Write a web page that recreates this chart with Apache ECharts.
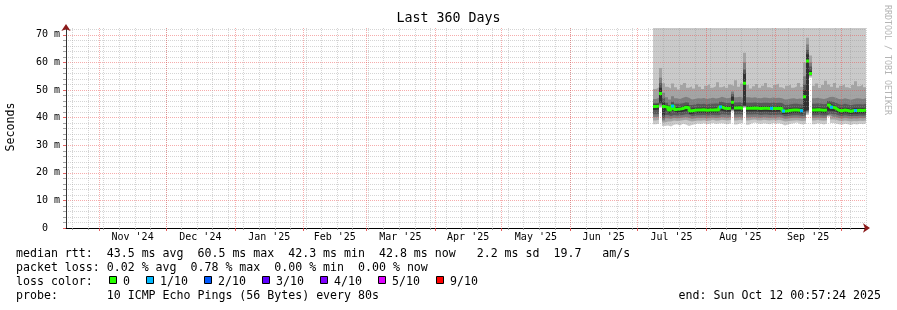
<!DOCTYPE html>
<html><head><meta charset="utf-8">
<script src="https://cdn.jsdelivr.net/npm/echarts@6/dist/echarts.min.js"></script>
<style>html,body{margin:0;padding:0;background:#fff}#c{width:897px;height:310px}</style>
</head><body><div id="c"></div>
<script>
// ---------- data ----------
const endTime = Date.UTC(2025, 9, 12, 0, 57, 24);
const spanDays = 360;
const sampleStepHours = 32.4;
const yMax = 72.5;

const median = [44.0,44.2,48.8,44.0,43.8,42.8,44.2,43.0,43.1,43.3,43.8,43.6,42.5,42.7,42.8,42.8,42.9,42.7,42.8,42.8,42.9,42.8,43.9,43.4,43.3,43.4,45.6,43.5,43.6,43.3,52.5,43.4,43.4,43.5,43.4,43.3,43.4,43.4,43.3,43.4,43.3,43.4,43.3,42.4,42.5,42.7,42.8,42.8,42.7,42.5,47.6,60.5,56.0,42.8,42.9,42.8,42.7,42.8,44.6,43.8,43.4,42.7,42.5,42.8,42.6,42.3,42.6,42.6,42.7,42.6,42.8,42.8];
const lossCount = [0,0,0,0,0,0,1,0,0,0,0,0,0,0,0,0,0,0,0,0,0,0,1,0,0,0,0,0,0,0,0,0,0,0,0,0,0,0,0,1,0,0,0,1,0,0,0,0,0,1,0,0,0,0,0,0,0,0,0,1,0,0,0,0,0,0,0,1,0,0,0,0];
const p10 = [75,75,75,75,75,75,75,75,75,75,75,75,75,75,75,75,75,75,75,75,75,75,75,75,75,75,75,75,75,75,75,75,75,75,75,75,75,75,75,75,75,75,75,75,75,75,75,75,75,75,75,75,75,75,75,75,75,75,75,75,75,75,75,75,75,75,75,75,75,75,75,75];
const p9 = [50.4,51.0,58.0,52.5,51.2,50.6,52.4,51.0,50.2,51.8,52.6,50.8,51.4,50.6,52.0,51.2,50.4,51.6,52.2,50.8,51.4,52.8,51.0,51.6,50.8,52.0,51.5,53.6,51.2,52.4,63.5,51.8,50.6,51.4,52.2,50.8,51.6,52.6,51.0,50.6,51.8,52.4,51.0,50.4,51.6,52.0,50.8,51.4,52.6,51.2,60.0,69.0,62.5,51.6,52.4,50.8,51.8,53.4,52.0,51.2,52.6,50.8,51.6,52.2,51.0,50.6,51.8,53.2,51.4,52.0,51.0,51.6];
const p8 = [46.8,47.2,54.5,49.0,47.4,46.6,47.8,47.0,46.8,47.2,47.6,47.2,46.6,46.8,47.0,46.9,47.1,46.8,47.0,47.2,46.9,47.1,47.6,47.2,47.0,47.3,49.5,47.4,47.6,47.2,60.0,47.4,47.2,47.4,47.1,47.0,47.3,47.2,47.0,47.3,47.1,47.2,47.0,46.6,46.7,46.9,47.0,46.8,46.9,46.8,55.0,66.5,60.0,47.0,47.2,46.9,46.8,47.0,47.5,47.6,47.2,46.8,46.7,47.0,46.8,46.5,46.8,47.0,46.9,46.8,47.0,46.9];
const p7 = [45.2,45.4,52.5,47.0,45.4,44.6,45.8,45.0,45.0,45.2,45.6,45.4,44.6,44.8,45.0,44.9,45.0,44.8,45.0,45.0,45.1,45.0,45.8,45.4,45.3,45.4,48.5,45.5,45.6,45.3,57.5,45.4,45.4,45.5,45.4,45.3,45.4,45.4,45.3,45.5,45.3,45.4,45.3,44.6,44.7,44.9,45.0,45.0,44.9,44.8,52.0,64.5,58.5,45.0,45.1,45.0,44.9,45.0,46.0,45.8,45.4,44.9,44.7,45.0,44.8,44.5,44.8,44.9,44.9,44.8,45.0,45.0];
const p6 = [44.8,45.0,50.8,45.5,44.6,43.6,45.0,43.8,43.9,44.1,44.6,44.4,43.3,43.5,43.6,43.6,43.7,43.5,43.6,43.6,43.7,43.6,44.7,44.2,44.1,44.2,47.6,44.3,44.4,44.1,56.0,44.2,44.2,44.3,44.2,44.1,44.2,44.2,44.1,44.2,44.1,44.2,44.1,43.2,43.3,43.5,43.6,43.6,43.5,43.3,50.0,63.0,57.0,43.6,43.7,43.6,43.5,43.6,45.3,44.6,44.2,43.5,43.3,43.6,43.4,43.1,43.4,43.4,43.5,43.4,43.6,43.6];
const p5 = [42.8,43.0,45.5,41.0,42.6,41.6,42.4,41.8,41.9,42.1,42.4,42.3,41.3,41.6,41.7,41.7,41.8,41.6,41.7,41.7,41.8,41.7,42.5,42.2,42.1,42.2,43.2,42.3,42.4,42.1,44.4,42.2,42.2,42.3,42.2,42.1,42.2,42.2,42.1,42.1,42.1,42.2,42.1,41.3,41.4,41.6,41.7,41.7,41.6,41.4,42.3,43.0,55.8,41.7,41.8,41.7,41.6,41.7,42.5,42.4,42.2,41.6,41.4,41.7,41.5,41.2,41.5,41.4,41.6,41.5,41.7,41.7];
const p4 = [41.2,41.3,45.0,39.8,41.0,40.6,41.0,40.8,40.9,41.0,41.2,41.1,40.6,40.8,40.9,40.9,41.0,40.8,40.9,41.0,40.9,40.9,41.2,41.1,41.0,41.1,43.0,41.1,41.2,41.0,44.2,41.1,41.1,41.2,41.1,41.0,41.1,41.1,41.0,41.0,41.0,41.1,41.0,40.5,40.6,40.8,40.9,40.9,40.8,40.6,41.0,42.5,55.6,40.9,41.0,40.9,40.8,40.9,41.5,41.2,41.1,40.8,40.6,40.9,40.7,40.5,40.7,40.6,40.8,40.7,40.9,40.9];
const p3 = [40.2,40.3,44.5,39.0,39.8,39.6,40.0,39.8,39.9,40.1,40.2,40.0,39.6,39.8,40.0,39.9,40.0,39.8,40.0,40.1,39.9,40.0,40.2,40.1,40.0,40.2,42.8,40.1,40.2,40.0,44.0,40.1,40.2,40.2,40.1,40.0,40.2,40.1,40.0,40.1,40.0,40.2,40.0,39.6,39.7,39.9,40.0,40.0,39.9,39.7,40.0,42.0,55.3,40.0,40.1,40.0,39.9,40.0,41.0,40.3,40.2,39.9,39.7,40.0,39.8,39.6,39.8,39.7,39.9,39.8,40.0,40.0];
const p2 = [39.0,39.2,44.0,38.2,38.6,38.6,39.0,38.8,38.9,39.1,39.2,38.9,38.6,38.8,39.0,38.9,39.1,38.8,39.0,39.2,38.9,39.0,39.2,39.1,39.0,39.2,42.5,39.0,39.2,39.1,43.8,39.0,39.2,39.3,39.1,39.0,39.2,39.1,39.0,39.2,39.0,39.2,39.0,38.6,38.7,38.9,39.0,39.1,38.9,38.7,39.0,41.5,55.0,39.0,39.2,39.0,38.9,39.1,40.6,39.3,39.2,38.9,38.7,39.0,38.8,38.6,38.8,38.7,38.9,38.8,39.0,39.0];
const p1 = [37.6,37.8,43.6,37.0,37.2,36.8,37.4,37.6,37.2,37.8,37.5,37.0,37.3,37.6,37.9,37.7,38.0,37.6,37.8,38.1,37.7,37.9,38.0,37.8,37.6,38.0,42.2,37.5,37.9,38.1,43.6,37.4,38.0,38.2,37.9,37.7,38.0,37.8,37.6,38.1,37.8,38.0,37.7,37.2,37.5,37.8,38.0,38.2,37.7,37.5,37.8,41.0,54.5,37.6,38.0,37.8,37.5,37.9,40.3,38.1,37.9,37.6,37.4,37.8,37.6,37.3,37.7,37.5,37.8,37.6,37.9,37.8];

const monthStarts = ['2024-11-01','2024-12-01','2025-01-01','2025-02-01','2025-03-01','2025-04-01','2025-05-01','2025-06-01','2025-07-01','2025-08-01','2025-09-01','2025-10-01'];
const monthLabels = ["Nov '24","Dec '24","Jan '25","Feb '25","Mar '25","Apr '25","May '25","Jun '25","Jul '25","Aug '25","Sep '25"];
const firstWeekLine = '2024-10-20';
const yMajorTicks = [0,10,20,30,40,50,60,70];
const yMinorTicks = [2,4,6,8,12,14,16,18,22,24,26,28,32,34,36,38,42,44,46,48,52,54,56,58,62,64,66,68,72];

const smokeColors = ['#cacaca','#a4a4a4','#7e7e7e','#585858','#323232'];
const lossLegendLabels = ['0','1/10','2/10','3/10','4/10','5/10','9/10'];
const lossLegendColors = ['#26ff00','#00b8ff','#0059ff','#5e00ff','#7e00ff','#dd00ff','#ff0000'];

const titleText = 'Last 360 Days';
const yName = 'Seconds';
const watermark = 'RRDTOOL / TOBI OETIKER';
const statLine1 = 'median rtt:  43.5 ms avg  60.5 ms max  42.3 ms min  42.8 ms now   2.2 ms sd  19.7   am/s';
const statLine2 = 'packet loss: 0.02 % avg  0.78 % max  0.00 % min  0.00 % now';
const statLine3 = 'loss color:';
const statLine4 = 'probe:       10 ICMP Echo Pings (56 Bytes) every 80s';
const endText = 'end: Sun Oct 12 00:57:24 2025';

// ---------- build ----------
const DAY = 86400000;
const startTime = endTime - spanDays * DAY;
const N = median.length;
const stepMs = sampleStepHours * 3600000;
const times = median.map((_, i) => endTime - (N - 1 - i) * stepMs);

const monthTickValues = monthStarts.map(s => Date.parse(s + 'T00:00:00Z'));
const monthMidValues = monthLabels.map((_, i) => (monthTickValues[i] + monthTickValues[i + 1]) / 2);
const weekTicks = [];
for (let t = Date.parse(firstWeekLine + 'T00:00:00Z'); t < endTime; t += 7 * DAY) weekTicks.push(t);

// Nested smoke layers, each filled down to the axis: upper edges first, then lower edges.
const smokeLayers = [
  [p10, smokeColors[0]], [p9, smokeColors[1]], [p8, smokeColors[2]], [p7, smokeColors[3]], [p6, smokeColors[4]],
  [p5, smokeColors[3]], [p4, smokeColors[2]], [p3, smokeColors[1]], [p2, smokeColors[0]], [p1, '#ffffff']
];

function lossColor(n) { return lossLegendColors[n > 5 ? 6 : n]; }

const MONO = "'DejaVu Sans Mono', monospace";
const series = [];
smokeLayers.forEach(([vals, col]) => {
  series.push({
    type: 'line', step: 'end', symbol: 'none', silent: true, z: 2,
    data: times.map((t, i) => [t, vals[i]]),
    lineStyle: { width: 0, color: col },
    itemStyle: { color: col },
    areaStyle: { color: col, opacity: 1, origin: 'start' }
  });
});
// median: stepped runs (broken at large jumps so spikes have no green verticals)
const runs = [];
let cur = [];
for (let i = 0; i < N - 1; i++) {
  cur.push([times[i], median[i]]);
  if (i === N - 2 || Math.abs(median[i + 1] - median[i]) > 1.5) {
    cur.push([times[i + 1], median[i]]);
    runs.push(cur);
    cur = [];
  }
}
runs.forEach(run => {
  series.push({
    type: 'line', step: 'end', symbol: 'none', silent: true, z: 5,
    data: run,
    lineStyle: { color: lossLegendColors[0], width: 3, cap: 'butt' }
  });
});
// loss-coloured median columns (samples with packet loss)
series.push({
  type: 'scatter', silent: true, z: 6, symbol: 'rect', symbolSize: [3, 3], symbolOffset: [1.5, 0],
  itemStyle: { color: p => lossColor(p.data[2]), opacity: 1 },
  data: times.map((t, i) => [t, median[i], lossCount[i]]).filter(d => d[2] > 0)
});

const minorGrid = { color: 'rgba(150,150,150,0.4)', type: [1, 1], width: 1 };
const majorGrid = { color: 'rgba(235,70,70,0.45)', type: [1, 1], width: 1 };

const graphic = [];
graphic.push({ type: 'text', x: 448.5, y: 19, style: { text: titleText, font: "13.3px 'DejaVu Sans Mono'", fill: '#000', align: 'center', verticalAlign: 'middle' } });
graphic.push({ type: 'text', x: 11, y: 127, rotation: Math.PI / 2, style: { text: yName, font: "11.6px 'DejaVu Sans Mono'", fill: '#000', align: 'center', verticalAlign: 'middle' } });
graphic.push({ type: 'text', x: 887.5, y: 60, rotation: -Math.PI / 2, style: { text: watermark, font: "8.3px 'DejaVu Sans Mono'", fill: '#b4b4b4', align: 'center', verticalAlign: 'middle' } });
const lineYs = [254, 268, 282, 296];
[statLine1, statLine2, statLine3, statLine4].forEach((s, i) => {
  graphic.push({ type: 'text', x: 16, y: lineYs[i], style: { text: s, font: "11.6px 'DejaVu Sans Mono'", fill: '#000', align: 'left', verticalAlign: 'middle' } });
});
graphic.push({ type: 'text', x: 881, y: lineYs[3], style: { text: endText, font: "11.6px 'DejaVu Sans Mono'", fill: '#000', align: 'right', verticalAlign: 'middle' } });
let bx = 109;
lossLegendLabels.forEach((lab, i) => {
  graphic.push({ type: 'rect', shape: { x: bx + 0.5, y: 276.5, width: 7, height: 7 }, style: { fill: lossLegendColors[i], stroke: '#000', lineWidth: 1 } });
  graphic.push({ type: 'text', x: bx + 14, y: lineYs[2], style: { text: lab, font: "11.6px 'DejaVu Sans Mono'", fill: '#000', align: 'left', verticalAlign: 'middle' } });
  bx += 30 + 7 * lab.length;
});

function monthLabelFor(v) {
  let best = 0, bd = Infinity;
  monthMidValues.forEach((m, i) => { const d = Math.abs(m - v); if (d < bd) { bd = d; best = i; } });
  return monthLabels[best];
}

const chart = echarts.init(document.getElementById('c'), null, { renderer: 'canvas' });
chart.setOption({
  animation: false,
  backgroundColor: '#fff',
  grid: { left: 66, right: 31, top: 28, bottom: 82, containLabel: false },
  xAxis: [
    {
      type: 'value', min: startTime, max: endTime, position: 'bottom', z: 3, scale: true,
      axisLine: { show: true, onZero: false, symbol: ['none', 'arrow'], symbolSize: [7, 7], symbolOffset: [0, 4], lineStyle: { color: '#8b1a1a', width: 1 } },
      axisTick: { show: true, customValues: weekTicks, length: 2, lineStyle: { color: 'rgba(140,140,140,0.8)' } },
      axisLabel: { show: false },
      splitLine: { show: true, lineStyle: minorGrid }
    },
    {
      type: 'value', min: startTime, max: endTime, position: 'bottom', z: 3, scale: true,
      axisLine: { show: true, onZero: false, lineStyle: { color: '#000', width: 1 } },
      axisTick: { show: true, customValues: monthTickValues, length: 3, lineStyle: { color: 'rgba(220,60,60,0.8)' } },
      axisLabel: {
        show: true, customValues: monthMidValues, margin: 4, fontFamily: MONO, fontSize: 10, color: '#000',
        formatter: monthLabelFor
      },
      splitLine: { show: true, lineStyle: majorGrid }
    }
  ],
  yAxis: [
    {
      type: 'value', min: 0, max: yMax, position: 'left', z: 3,
      axisLine: { show: true, onZero: false, symbol: ['none', 'arrow'], symbolSize: [7, 7], symbolOffset: [0, 4], lineStyle: { color: '#8b1a1a', width: 1 } },
      axisTick: { show: true, customValues: yMinorTicks, length: 3, lineStyle: { color: 'rgba(140,140,140,0.8)' } },
      axisLabel: { show: false },
      splitLine: { show: true, lineStyle: minorGrid }
    },
    {
      type: 'value', min: 0, max: yMax, position: 'left', z: 3,
      axisLine: { show: true, onZero: false, lineStyle: { color: '#333', width: 1 } },
      axisTick: { show: true, customValues: yMajorTicks, length: 3, lineStyle: { color: 'rgba(220,60,60,0.8)' } },
      axisLabel: {
        show: true, customValues: yMajorTicks, margin: 6, fontFamily: MONO, fontSize: 10, color: '#000',
        formatter: v => (v === 0 ? '0  ' : v + ' m')
      },
      splitLine: { show: true, lineStyle: majorGrid }
    }
  ],
  series: series,
  graphic: graphic
});
</script>
</body></html>
